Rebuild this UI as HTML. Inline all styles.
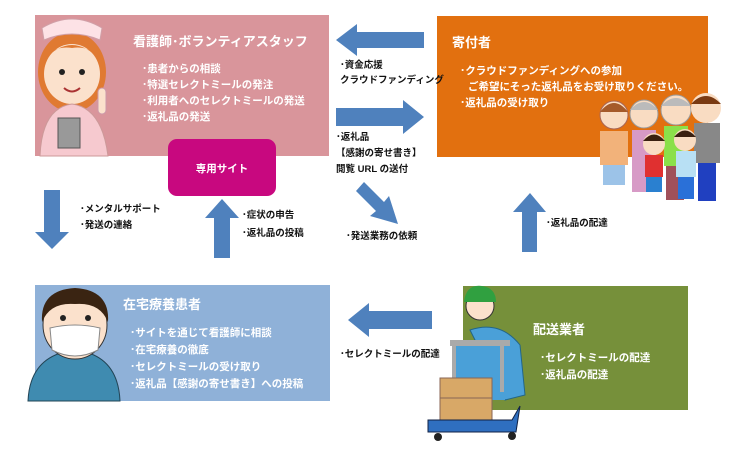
<!DOCTYPE html>
<html><head><meta charset="utf-8"><style>
html,body{margin:0;padding:0;background:#fff;}
svg{display:block;}
text{font-family:"Liberation Sans","Noto Sans CJK JP",sans-serif;font-weight:bold;}
.w{fill:#fff;font-size:10.5px;}
.h{fill:#fff;font-size:13px;}
.k{fill:#111;font-size:9.5px;}
</style></head><body>
<svg width="736" height="450" viewBox="0 0 736 450" xmlns="http://www.w3.org/2000/svg">
<rect width="736" height="450" fill="#fff"/>
<rect x="35" y="15" width="294" height="141" fill="#d9959b"/>
<rect x="437" y="16" width="271" height="141" fill="#e2700f"/>
<rect x="35" y="285" width="295" height="116" fill="#8fb1d8"/>
<rect x="463" y="286" width="225" height="124" fill="#76903a"/>
<rect x="168" y="139" width="108" height="57" rx="9" fill="#c8087f"/>
<text x="222" y="172" class="w" text-anchor="middle">専用サイト</text>

<g fill="#4f81bd">
<polygon points="336,40 357,24 357,32 424,32 424,48 357,48 357,56"/>
<polygon points="336,108 403,108 403,100 424,117 403,134 403,126 336,126"/>
<polygon points="364,182 384,202 389,196 398,224 370,216 376,211 356,191"/>
<polygon points="44,190 60,190 60,232 69,232 52,249 35,232 44,232"/>
<polygon points="214,258 230,258 230,218 239,218 222,199 205,218 214,218"/>
<polygon points="522,252 537,252 537,212 546,212 530,193 513,212 522,212"/>
<polygon points="348,320 369,303 369,311 432,311 432,329 369,329 369,337"/>
</g>

<text x="133" y="46" class="h">看護師･ボランティアスタッフ</text>
<text x="142" y="72" class="w">･患者からの相談</text>
<text x="142" y="88" class="w">･特選セレクトミールの発注</text>
<text x="142" y="104" class="w">･利用者へのセレクトミールの発送</text>
<text x="142" y="120" class="w">･返礼品の発送</text>
<g>
<ellipse cx="72" cy="72" rx="34" ry="40" fill="#e07a32"/>
<path d="M42,28 Q72,10 102,28 L100,40 Q72,28 44,40Z" fill="#fde2e6" stroke="#d0a0a8"/>
<ellipse cx="72" cy="74" rx="28" ry="30" fill="#fbe1cc"/>
<path d="M44,60 Q72,30 100,60 Q90,45 72,48 Q54,45 44,60Z" fill="#e07a32"/>
<circle cx="62" cy="72" r="3" fill="#222"/><circle cx="82" cy="72" r="3" fill="#222"/>
<path d="M64,88 Q72,95 80,88" stroke="#a33" fill="none" stroke-width="2"/>
<path d="M40,156 Q42,108 72,104 Q102,108 108,156Z" fill="#f6c9cf" stroke="#c99"/>
<rect x="58" y="118" width="22" height="30" fill="#999" stroke="#555"/>
<rect x="98" y="88" width="8" height="26" rx="4" fill="#fbe1cc" stroke="#c9a"/>
</g>

<text x="452" y="47" class="h">寄付者</text>
<text x="460" y="74" class="w">･クラウドファンディングへの参加</text>
<text x="468" y="90" class="w">ご希望にそった返礼品をお受け取りください。</text>
<text x="460" y="106" class="w">･返礼品の受け取り</text>
<g>
<circle cx="614" cy="115" r="14" fill="#f9dcc2" stroke="#a65"/><path d="M600,112 Q614,94 628,112" fill="#a55a2a"/>
<rect x="600" y="131" width="28" height="34" fill="#f2b27a"/><rect x="603" y="165" width="22" height="20" fill="#9cc3e8"/>
<circle cx="644" cy="114" r="14" fill="#f9dcc2" stroke="#999"/><path d="M630,110 Q644,94 658,110" fill="#bbb"/>
<rect x="632" y="130" width="24" height="62" fill="#d79ac6"/>
<circle cx="676" cy="110" r="15" fill="#f9dcc2" stroke="#999"/><path d="M661,106 Q676,90 691,106" fill="#bbb"/>
<rect x="664" y="126" width="24" height="40" fill="#8be04a"/><rect x="666" y="166" width="18" height="34" fill="#a0505a"/>
<circle cx="706" cy="108" r="15" fill="#f9dcc2"/><path d="M691,104 Q706,88 721,104" fill="#7a3a12"/>
<rect x="694" y="123" width="26" height="40" fill="#888"/><rect x="698" y="163" width="18" height="38" fill="#2040c0"/>
<circle cx="654" cy="144" r="11" fill="#f9dcc2"/><path d="M643,141 Q654,128 665,141" fill="#3a2010"/>
<rect x="645" y="155" width="18" height="22" fill="#e03030"/><rect x="646" y="177" width="16" height="15" fill="#2a80d0"/>
<circle cx="685" cy="140" r="11" fill="#f9dcc2"/><path d="M674,137 Q685,124 696,137" fill="#3a2010"/>
<rect x="676" y="151" width="20" height="26" fill="#b8e0f4"/><rect x="678" y="177" width="16" height="22" fill="#2a70d8"/>
</g>

<text x="340" y="68" class="k">･資金応援</text>
<text x="340" y="83" class="k">クラウドファンディング</text>
<text x="336" y="140" class="k">･返礼品</text>
<text x="336" y="156" class="k">【感謝の寄せ書き】</text>
<text x="336" y="172" class="k">閲覧 URL の送付</text>
<text x="346" y="239" class="k">･発送業務の依頼</text>
<text x="80" y="212" class="k">･メンタルサポート</text>
<text x="80" y="228" class="k">･発送の連絡</text>
<text x="242" y="218" class="k">･症状の申告</text>
<text x="242" y="236" class="k">･返礼品の投稿</text>
<text x="546" y="226" class="k">･返礼品の配達</text>
<text x="340" y="357" class="k">･セレクトミールの配達</text>

<text x="123" y="309" class="h">在宅療養患者</text>
<text x="130" y="336" class="w">･サイトを通じて看護師に相談</text>
<text x="130" y="353" class="w">･在宅療養の徹底</text>
<text x="130" y="370" class="w">･セレクトミールの受け取り</text>
<text x="130" y="387" class="w">･返礼品【感謝の寄せ書き】への投稿</text>
<g>
<path d="M28,401 Q30,355 75,350 Q118,355 120,401Z" fill="#3f8bb0" stroke="#245"/>
<ellipse cx="75" cy="325" rx="32" ry="34" fill="#fbe1cc" stroke="#333"/>
<path d="M42,322 Q40,290 75,288 Q110,290 108,322 Q100,302 75,304 Q50,302 42,322Z" fill="#3a2412"/>
<circle cx="63" cy="318" r="3" fill="#222"/><circle cx="88" cy="318" r="3" fill="#222"/>
<path d="M50,328 Q75,322 100,328 L98,350 Q75,362 52,350Z" fill="#fff" stroke="#888"/>
</g>

<text x="533" y="334" class="h">配送業者</text>
<text x="540" y="361" class="w">･セレクトミールの配達</text>
<text x="540" y="378" class="w">･返礼品の配達</text>
<g>
<path d="M470,330 Q500,320 520,345 L525,395 L505,400 Z" fill="#4aa0d8" stroke="#268"/>
<rect x="455" y="340" width="50" height="60" fill="#4aa0d8"/>
<circle cx="480" cy="306" r="14" fill="#fbe1cc" stroke="#333"/>
<path d="M464,302 Q466,284 482,286 Q496,288 496,302Z" fill="#30a040"/>
<rect x="450" y="340" width="60" height="6" fill="#aaa"/>
<rect x="452" y="342" width="4" height="50" fill="#aaa"/><rect x="500" y="342" width="4" height="50" fill="#aaa"/>
<rect x="440" y="378" width="52" height="22" fill="#d8a867" stroke="#865"/>
<rect x="440" y="398" width="52" height="22" fill="#d8a867" stroke="#865"/>
<polygon points="428,420 512,420 520,406 516,432 428,432" fill="#2f6fc0" stroke="#124"/>
<circle cx="438" cy="437" r="4" fill="#222"/><circle cx="512" cy="436" r="4" fill="#222"/>
</g>
</svg>
</body></html>
